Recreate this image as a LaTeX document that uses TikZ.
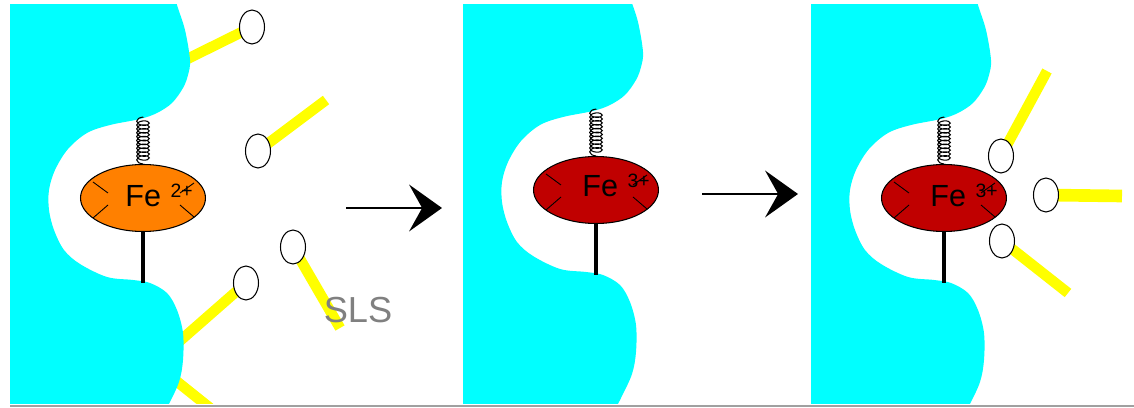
\documentclass[tikz,border=0pt]{standalone}
\usepackage{fontspec}
\setmainfont{Liberation Sans}
\usepackage{tikz}
\usetikzlibrary{shapes.geometric,arrows.meta,decorations.pathmorphing}

\definecolor{protcyan}{RGB}{0,255,255}
\definecolor{tailyellow}{RGB}{255,255,0}
\definecolor{feorange}{RGB}{255,128,0}
\definecolor{fered}{RGB}{192,0,0}
\definecolor{slsgray}{RGB}{128,128,128}
\definecolor{rulegray}{RGB}{160,160,160}

% Fe with its charge set a little higher and smaller
\newcommand{\ionlabel}[1]{Fe\hspace{5.5pt}\raisebox{5.2pt}{\fontsize{11}{13}\selectfont #1}}

\begin{document}
\begin{tikzpicture}[x=0.02cm, y=-0.02cm,
		ion/.style={ellipse, draw, line width=0.6pt, minimum width=2.5cm, minimum height=1.34cm, inner sep=0pt},
		head/.style={ellipse, draw, fill=white, line width=0.6pt, minimum width=0.5cm, minimum height=0.68cm, inner sep=0pt},
		tail/.style={tailyellow, line width=6pt},
		spring/.style={decorate, decoration={coil, aspect=0.5, segment length=2.2pt, amplitude=3.6pt}, line width=0.6pt},
		rod/.style={line width=2.3pt},
		tick/.style={line width=0.5pt},
		iontext/.style={anchor=base west, inner sep=0pt, font=\fontsize{17.4}{20}\selectfont},
		react/.style={line width=1.7pt, -{Stealth[length=18.7pt, width=26.6pt, inset=7.4pt]}}]
		\useasboundingbox[fill=white] (0,0) rectangle (1134,408);

		% surfactant heads and tail ends
		\coordinate (h1) at (252,27);   \coordinate (t1) at (165,70);
		\coordinate (h2) at (258,151);  \coordinate (t2) at (326,100);
		\coordinate (h3) at (293,247);  \coordinate (t3) at (340,328);
		\coordinate (h4) at (246,283);  \coordinate (t4) at (165,354);
		\coordinate (t5a) at (150,360); \coordinate (t5b) at (215,412);
		\coordinate (ha) at (1001,156); \coordinate (ta) at (1047,71);
		\coordinate (hb) at (1046,195); \coordinate (tb) at (1122,196);
		\coordinate (hc) at (1002,241); \coordinate (tc) at (1068,293);

		\begin{scope}
			\clip (0,5) rectangle (1134,404);
			\draw[tail] (h1) -- (t1);
			\draw[tail] (h2) -- (t2);
			\draw[tail] (h3) -- (t3);
			\draw[tail] (h4) -- (t4);
			\draw[tail] (t5a) -- (t5b);
			\draw[tail] (ha) -- (ta);
			\draw[tail, line width=7.2pt] (hb) -- (tb);
			\draw[tail] (hc) -- (tc);
			% protein surface with the pocket
			\foreach \dx/\dy in {0/0, 453/-8, 801/0}
				\fill[protcyan, shift={(\dx,\dy)}] (10,-20) -- plot[smooth, tension=0.55] coordinates {
					(172,-15) (177,5) (185,30) (190,60) (188,75) (183,88) (172,103) (157,113)
					(140,119) (110,125) (87,133) (68,149) (55,170) (49,190) (49,210) (54,230)
					(64,250) (80,264) (107,277) (133,280) (150,283) (167,293) (177,310)
					(183,333) (183,360) (179,382) (168,406) (158,425)} -- (10,430) -- cycle;
		\end{scope}
		\draw[rulegray, line width=1.2pt] (10,406) -- (1134,406);

		\node[head] (sls1) at (h1) {};
		\node[head] (sls2) at (h2) {};
		\node[head] (sls3) at (h3) {};
		\node[head] (sls4) at (h4) {};
		\node[head] (slsa) at (ha) {};
		\node[head] (slsb) at (hb) {};
		\node[head] (slsc) at (hc) {};
		\node[text=slsgray, inner sep=0pt, font=\fontsize{20.6}{24}\selectfont] (sls) at (358,310) {SLS};

		% iron centres
		\coordinate (s1) at (143,117); \coordinate (r1) at (143,283);
		\coordinate (s2) at (596,109); \coordinate (r2) at (596,275);
		\coordinate (s3) at (944,117); \coordinate (r3) at (944,283);
		\node[ion, fill=feorange] (fe1) at (143,198) {};
		\node[ion, fill=fered] (fe2) at (596,190) {};
		\node[ion, fill=fered] (fe3) at (944,198) {};
		\draw[spring] (fe1.north) -- (s1);
		\draw[spring] (fe2.north) -- (s2);
		\draw[spring] (fe3.north) -- (s3);
		\draw[rod] (fe1.south) -- (r1);
		\draw[rod] (fe2.south) -- (r2);
		\draw[rod] (fe3.south) -- (r3);
		\draw[tick, shift={(fe1.center)}] (-50,-16) -- (-35,-5) (-50,20) -- (-35,7) (51,-15) -- (37,-5) (51,19) -- (37,7);
		\draw[tick, shift={(fe2.center)}] (-50,-16) -- (-35,-5) (-50,20) -- (-35,7) (51,-15) -- (37,-5) (51,19) -- (37,7);
		\draw[tick, shift={(fe3.center)}] (-50,-16) -- (-35,-5) (-50,20) -- (-35,7) (51,-15) -- (37,-5) (51,19) -- (37,7);
		\node[iontext] (lab1) at ([shift={(-18,9)}]fe1.center) {\ionlabel{2+}};
		\node[iontext] (lab2) at ([shift={(-14,7)}]fe2.center) {\ionlabel{3+}};
		\node[iontext] (lab3) at ([shift={(-14,9)}]fe3.center) {\ionlabel{3+}};

		% reaction steps
		\coordinate (a1s) at (346,208); \coordinate (a1e) at (442,208);
		\coordinate (a2s) at (702,194); \coordinate (a2e) at (798,194);
		\draw[react] (a1s) -- (a1e);
		\draw[react] (a2s) -- (a2e);
\end{tikzpicture}
\end{document}
